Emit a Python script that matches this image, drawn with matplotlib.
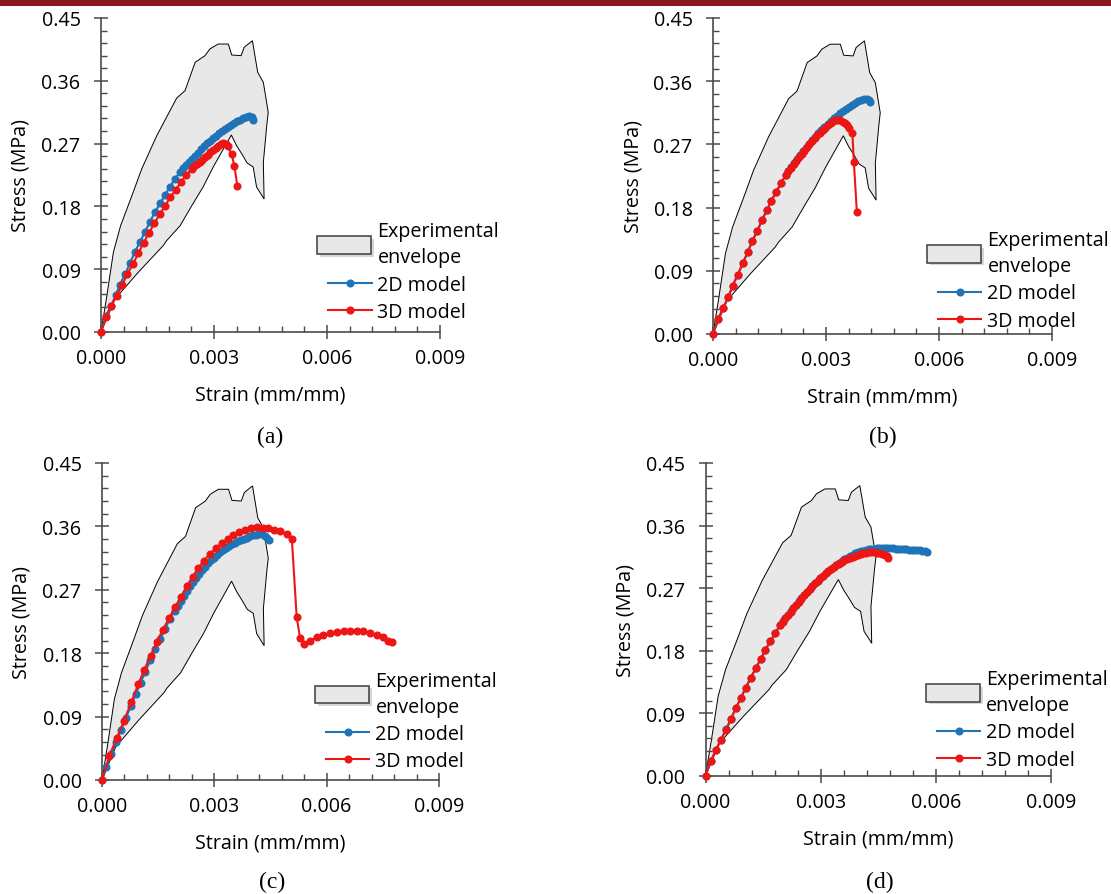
import numpy as np
import matplotlib
matplotlib.use("Agg")
import matplotlib.pyplot as plt
from matplotlib.patches import Rectangle, Patch
from matplotlib.lines import Line2D
from matplotlib.legend_handler import HandlerPatch
from matplotlib.ticker import MultipleLocator, FormatStrFormatter
import matplotlib.patheffects as pe

plt.rcParams["font.family"] = ["Open Sans", "DejaVu Sans"]

# ---------------- experimental envelope (shared by all panels) ----------------
env_strain = [0, 0.00015, 0.00033, 0.00052, 0.00082, 0.00108, 0.00148, 0.00201,
              0.00223, 0.00250, 0.00276, 0.00289, 0.00311, 0.00338, 0.00347,
              0.00372, 0.00380, 0.00402, 0.00416, 0.00431, 0.00444, 0.00440,
              0.00431, 0.00433, 0.00413, 0.00404, 0.00388, 0.00374, 0.00360,
              0.00346, 0.00325, 0.00298, 0.00271, 0.00241, 0.00210, 0.00174,
              0.00165, 0.00099, 0.00037, 0]
env_stress = [0, 0.0500, 0.1146, 0.1523, 0.1953, 0.2336, 0.2813, 0.3353,
              0.3458, 0.3865, 0.3960, 0.4056, 0.4127, 0.4127, 0.3970,
              0.3960, 0.4080, 0.4175, 0.3722, 0.3578, 0.3149, 0.2957,
              0.2432, 0.1906, 0.2078, 0.2365, 0.2422, 0.2551, 0.2670,
              0.2823, 0.2623, 0.2365, 0.2078, 0.1810, 0.1523, 0.1308,
              0.1237, 0.0856, 0.0473, 0]

# ---------------- (a) ----------------
a_2d_strain = [0, 0.00013, 0.00027, 0.00039, 0.00050, 0.00064, 0.00077, 0.00090,
               0.00104, 0.00117, 0.00130, 0.00143, 0.00157, 0.00170, 0.00183,
               0.00196, 0.00210, 0.00218, 0.00226, 0.00234, 0.00242, 0.00250,
               0.00258, 0.00266, 0.00274, 0.00282, 0.00290, 0.00298, 0.00306,
               0.00314, 0.00322, 0.00330, 0.00338, 0.00346, 0.00354, 0.00362,
               0.00370, 0.00378, 0.00386, 0.00394, 0.00400, 0.00404]
a_2d_stress = [0, 0.0234, 0.0377, 0.0530, 0.0678, 0.0831, 0.0984, 0.1151,
               0.1294, 0.1437, 0.1581, 0.1715, 0.1844, 0.1963, 0.2082,
               0.2193, 0.2297, 0.2345, 0.2392, 0.2438, 0.2483, 0.2527,
               0.2572, 0.2616, 0.2659, 0.2702, 0.2744, 0.2782, 0.2815,
               0.2846, 0.2876, 0.2905, 0.2933, 0.2962, 0.2990, 0.3018,
               0.3045, 0.3068, 0.3085, 0.3090, 0.3075, 0.3045]
a_3d_strain = [0, 0.00014, 0.00027, 0.00042, 0.00056, 0.00070, 0.00085, 0.00099,
               0.00113, 0.00127, 0.00142, 0.00156, 0.00170, 0.00184, 0.00198,
               0.00212, 0.00226, 0.00241, 0.00248, 0.00255, 0.00262, 0.00269,
               0.00276, 0.00283, 0.00290, 0.00297, 0.00304, 0.00311, 0.00318,
               0.00325, 0.00331, 0.00336, 0.00347, 0.00354, 0.00362]
a_3d_stress = [0, 0.0211, 0.0368, 0.0520, 0.0674, 0.0831, 0.0975, 0.1128,
               0.1275, 0.1419, 0.1558, 0.1691, 0.1810, 0.1930, 0.2039,
               0.2145, 0.2250, 0.2336, 0.2372, 0.2406, 0.2440, 0.2472,
               0.2504, 0.2540, 0.2578, 0.2612, 0.2642, 0.2668, 0.2688,
               0.2702, 0.2700, 0.2665, 0.2545, 0.2383, 0.2095]

# ---------------- (b) ----------------
b_2d_strain = [0, 0.00014, 0.00027, 0.00041, 0.00052, 0.00066, 0.00079, 0.00092,
               0.00104, 0.00118, 0.00130, 0.00143, 0.00155, 0.00167, 0.00181,
               0.00193, 0.00200, 0.00208, 0.00216, 0.00224, 0.00232, 0.00240,
               0.00248, 0.00256, 0.00264, 0.00272, 0.00280, 0.00288, 0.00296,
               0.00304, 0.00312, 0.00320, 0.00328, 0.00336, 0.00344, 0.00352,
               0.00360, 0.00368, 0.00376, 0.00384, 0.00392, 0.00400, 0.00408,
               0.00414, 0.00418]
b_2d_stress = [0, 0.0214, 0.0370, 0.0531, 0.0688, 0.0845, 0.1007, 0.1163,
               0.1320, 0.1471, 0.1623, 0.1761, 0.1898, 0.2018, 0.2150,
               0.2264, 0.2318, 0.2378, 0.2435, 0.2490, 0.2545, 0.2600,
               0.2655, 0.2708, 0.2760, 0.2810, 0.2858, 0.2905, 0.2950,
               0.2995, 0.3035, 0.3075, 0.3110, 0.3145, 0.3178, 0.3208,
               0.3238, 0.3265, 0.3290, 0.3315, 0.3335, 0.3348, 0.3350,
               0.3335, 0.3310]
b_3d_strain = [0, 0.00014, 0.00027, 0.00041, 0.00052, 0.00066, 0.00079, 0.00092,
               0.00104, 0.00118, 0.00130, 0.00143, 0.00155, 0.00167, 0.00181,
               0.00193, 0.00200, 0.00207, 0.00214, 0.00221, 0.00228, 0.00235,
               0.00242, 0.00249, 0.00256, 0.00263, 0.00270, 0.00277, 0.00284,
               0.00291, 0.00298, 0.00305, 0.00312, 0.00319, 0.00326, 0.00332,
               0.00338, 0.00344, 0.00350, 0.00356, 0.00362, 0.00370, 0.00374,
               0.00382]
b_3d_stress = [0, 0.0214, 0.0370, 0.0531, 0.0688, 0.0845, 0.1007, 0.1163,
               0.1320, 0.1471, 0.1623, 0.1761, 0.1898, 0.2018, 0.2150,
               0.2264, 0.2316, 0.2366, 0.2416, 0.2466, 0.2516, 0.2565,
               0.2612, 0.2658, 0.2702, 0.2745, 0.2788, 0.2828, 0.2865,
               0.2902, 0.2940, 0.2975, 0.3005, 0.3030, 0.3048, 0.3052,
               0.3045, 0.3025, 0.2998, 0.2970, 0.2935, 0.2858, 0.2445,
               0.1733]

# ---------------- (c) ----------------
c_2d_strain = [0, 0.00012, 0.00025, 0.00038, 0.00051, 0.00064, 0.00077, 0.00090,
               0.00103, 0.00116, 0.00129, 0.00142, 0.00155, 0.00168, 0.00181,
               0.00194, 0.00202, 0.00210, 0.00218, 0.00226, 0.00234, 0.00242,
               0.00250, 0.00258, 0.00266, 0.00274, 0.00282, 0.00290, 0.00298,
               0.00306, 0.00314, 0.00322, 0.00330, 0.00338, 0.00346, 0.00354,
               0.00362, 0.00370, 0.00378, 0.00386, 0.00394, 0.00402, 0.00410,
               0.00418, 0.00426, 0.00434, 0.00441, 0.00447]
c_2d_stress = [0, 0.0180, 0.0370, 0.0540, 0.0710, 0.0880, 0.1050, 0.1220,
               0.1380, 0.1540, 0.1700, 0.1860, 0.2000, 0.2140, 0.2280,
               0.2400, 0.2470, 0.2540, 0.2610, 0.2680, 0.2748, 0.2812,
               0.2870, 0.2925, 0.2978, 0.3028, 0.3075, 0.3118, 0.3158,
               0.3195, 0.3230, 0.3262, 0.3292, 0.3320, 0.3345, 0.3368,
               0.3388, 0.3407, 0.3425, 0.3442, 0.3458, 0.3472, 0.3484,
               0.3490, 0.3488, 0.3465, 0.3430, 0.3410]
c_3d_strain = [0, 0.000195, 0.000393, 0.000588, 0.000783, 0.00097, 0.00113, 0.00130,
               0.00146, 0.00162, 0.00179, 0.00195, 0.00211, 0.00226, 0.00242,
               0.00257, 0.00272, 0.00288, 0.00304, 0.00320, 0.00336, 0.00351,
               0.00367, 0.00382, 0.00398, 0.00413, 0.00429, 0.00444, 0.00460,
               0.00475, 0.00493, 0.00507, 0.00520, 0.00529, 0.00540, 0.00556,
               0.00573, 0.00591, 0.00609, 0.00627, 0.00645, 0.00662, 0.00680,
               0.00698, 0.00716, 0.00734, 0.00751, 0.00765, 0.00774]
c_3d_stress = [0, 0.0345, 0.0592, 0.0842, 0.1103, 0.1363, 0.1566, 0.1765,
               0.1955, 0.2129, 0.2295, 0.2452, 0.2602, 0.2750, 0.2886,
               0.3009, 0.3113, 0.3208, 0.3289, 0.3364, 0.3421, 0.3478,
               0.3516, 0.3549, 0.3573, 0.3587, 0.3577, 0.3573, 0.3553,
               0.3539, 0.3492, 0.3421, 0.2310, 0.2016, 0.1931, 0.1978,
               0.2026, 0.2058, 0.2083, 0.2097, 0.2111, 0.2119, 0.2119,
               0.2111, 0.2087, 0.2058, 0.2026, 0.1978, 0.1964]

# ---------------- (d) ----------------
d_3d_strain = [0, 0.000143, 0.000274, 0.000397, 0.000535, 0.000665, 0.000788, 0.000918,
               0.00105, 0.00118, 0.00131, 0.00144, 0.00156, 0.00169, 0.00182,
               0.00194, 0.00201, 0.00208, 0.00215, 0.00222, 0.00229, 0.00236,
               0.00243, 0.00250, 0.00257, 0.00264, 0.00271, 0.00278, 0.00285,
               0.00292, 0.00299, 0.00306, 0.00313, 0.00320, 0.00327, 0.00334,
               0.00341, 0.00348, 0.00355, 0.00362, 0.00369, 0.00376, 0.00383,
               0.00390, 0.00397, 0.00404, 0.00411, 0.00418, 0.00425, 0.00432,
               0.00439, 0.00446, 0.00453, 0.00460, 0.00467, 0.00472, 0.00475]
d_3d_stress = [0, 0.0216, 0.0370, 0.0514, 0.0662, 0.0816, 0.0970, 0.1114,
               0.1266, 0.1410, 0.1545, 0.1679, 0.1809, 0.1934, 0.2049,
               0.2169, 0.2218, 0.2267, 0.2315, 0.2362, 0.2410, 0.2458,
               0.2504, 0.2550, 0.2596, 0.2641, 0.2685, 0.2728, 0.2768,
               0.2806, 0.2842, 0.2876, 0.2910, 0.2942, 0.2972, 0.3000,
               0.3027, 0.3052, 0.3076, 0.3098, 0.3118, 0.3136, 0.3153,
               0.3168, 0.3181, 0.3193, 0.3203, 0.3211, 0.3216, 0.3219,
               0.3218, 0.3212, 0.3203, 0.3190, 0.3172, 0.3155, 0.3135]
d_2d_strain = [0, 0.000143, 0.000274, 0.000397, 0.000535, 0.000665, 0.000788, 0.000918,
               0.00105, 0.00118, 0.00131, 0.00144, 0.00156, 0.00169, 0.00182,
               0.00194, 0.00201, 0.00208, 0.00215, 0.00222, 0.00229, 0.00236,
               0.00243, 0.00250, 0.00257, 0.00264, 0.00271, 0.00278, 0.00285,
               0.00292, 0.00299, 0.00306, 0.00313, 0.00320, 0.00327, 0.00334,
               0.00341, 0.00348, 0.00355, 0.00362, 0.00369, 0.00376, 0.00383,
               0.00390, 0.00397, 0.00404, 0.00411, 0.00418, 0.00425, 0.00432,
               0.00439, 0.00446, 0.00453, 0.00460, 0.00467, 0.00474, 0.00481,
               0.00488, 0.00495, 0.00502, 0.00509, 0.00516, 0.00523, 0.00530,
               0.00537, 0.00544, 0.00551, 0.00558, 0.00565, 0.00572, 0.00577]
d_2d_stress = [0, 0.0218, 0.0372, 0.0517, 0.0665, 0.0819, 0.0973, 0.1117,
               0.1269, 0.1413, 0.1548, 0.1682, 0.1812, 0.1937, 0.2052,
               0.2172, 0.2221, 0.2270, 0.2318, 0.2365, 0.2413, 0.2461,
               0.2507, 0.2553, 0.2599, 0.2644, 0.2688, 0.2731, 0.2771,
               0.2809, 0.2845, 0.2880, 0.2914, 0.2947, 0.2978, 0.3007,
               0.3035, 0.3063, 0.3090, 0.3115, 0.3138, 0.3160, 0.3180,
               0.3198, 0.3214, 0.3228, 0.3240, 0.3250, 0.3258, 0.3264,
               0.3268, 0.3271, 0.3273, 0.3274, 0.3274, 0.3274, 0.3273,
               0.3271, 0.3269, 0.3267, 0.3264, 0.3261, 0.3258, 0.3255,
               0.3252, 0.3249, 0.3246, 0.3242, 0.3237, 0.3232, 0.3225]

x_ticks = [0, 0.003, 0.006, 0.009]
y_ticks = [0, 0.09, 0.18, 0.27, 0.36, 0.45]
panel_tags = ["(a)", "(b)", "(c)", "(d)"]

BLUE = "#1f73b7"
RED = "#ee1515"
ENV_FACE = "#e8e8e8"
AX_COLOR = "#4a4a4a"
FS = 14.2
MS = 4.8

W, H = 1111, 895
fig = plt.figure(figsize=(W / 100, H / 100), dpi=100)

# axes frames in pixels: left, top, right, bottom
frames = [(101, 19, 440, 333), (713, 19, 1052, 335),
          (102, 464, 439, 781), (705.5, 464, 1051, 776.7)]
legend_anchor = [(0.670, 0.353), (0.664, 0.329), (0.665, 0.345), (0.670, 0.341)]
tag_pos = [(270, 437), (883, 437), (272, 882), (880, 882)]

series = [
    (a_2d_strain, a_2d_stress, a_3d_strain, a_3d_stress),
    (b_2d_strain, b_2d_stress, b_3d_strain, b_3d_stress),
    (c_2d_strain, c_2d_stress, c_3d_strain, c_3d_stress),
    (d_2d_strain, d_2d_stress, d_3d_strain, d_3d_stress),
]


def env_handle(legend, orig_handle, xdescent, ydescent, width, height, fontsize):
    return Rectangle((-xdescent - 7.9, -ydescent - 1.4), width + 7.5, height + 2.8)


for (l, t, r, b), (x2, y2, x3, y3), anchor, tag, tp in zip(
        frames, series, legend_anchor, panel_tags, tag_pos):
    ax = fig.add_axes([l / W, 1 - b / H, (r - l) / W, (b - t) / H])
    ax.fill(env_strain, env_stress, facecolor=ENV_FACE, edgecolor="black",
            linewidth=0.7, zorder=1)
    ax.plot(x2, y2, color=BLUE, lw=1.5, marker="o", ms=MS, zorder=3, clip_on=False)
    ax.plot(x3, y3, color=RED, lw=1.5, marker="o", ms=MS, zorder=4, clip_on=False)

    ax.set_xlim(0, 0.009)
    ax.set_ylim(0, 0.45)
    ax.set_xticks(x_ticks)
    ax.set_yticks(y_ticks)
    ax.xaxis.set_major_formatter(FormatStrFormatter("%.3f"))
    ax.yaxis.set_major_formatter(FormatStrFormatter("%.2f"))
    ax.xaxis.set_minor_locator(MultipleLocator(0.0006))
    ax.yaxis.set_minor_locator(MultipleLocator(0.018))
    for side in ("top", "right"):
        ax.spines[side].set_visible(False)
    for side in ("left", "bottom"):
        ax.spines[side].set_color(AX_COLOR)
        ax.spines[side].set_linewidth(1.2)
    ax.tick_params(which="major", direction="inout", length=9.4, width=1.1,
                   color=AX_COLOR, labelsize=FS, labelcolor="black")
    ax.tick_params(which="minor", direction="in", length=4.3, width=1.0, color=AX_COLOR)
    ax.tick_params(axis="x", which="major", pad=7.0)
    ax.tick_params(axis="y", which="major", pad=10.0)

    ax.set_xlabel("Strain (mm/mm)", fontsize=FS)
    ax.set_ylabel("Stress (MPa)", fontsize=FS)
    ax.xaxis.label.set_va("center")
    ax.yaxis.label.set_va("center")
    ax.xaxis.set_label_coords(0.5, -63 / (b - t))
    ax.yaxis.set_label_coords(-80 / (r - l), 0.5)

    env_proxy = Patch(facecolor=ENV_FACE, edgecolor="#3c3c3c", linewidth=1.1,
                      path_effects=[pe.SimplePatchShadow(offset=(2, -2),
                                                         shadow_rgbFace="#bdbdbd",
                                                         alpha=0.6),
                                    pe.Normal()])
    h2 = Line2D([], [], color=BLUE, lw=1.5, marker="o", ms=MS)
    h3 = Line2D([], [], color=RED, lw=1.5, marker="o", ms=MS)
    leg = ax.legend([env_proxy, h2, h3], ["Experimental\nenvelope", "2D model", "3D model"],
                    loc="upper left", bbox_to_anchor=anchor, frameon=False,
                    fontsize=FS, handlelength=2.2, handletextpad=0.3,
                    labelspacing=0.36, borderpad=0, borderaxespad=0, numpoints=1,
                    handler_map={Patch: HandlerPatch(patch_func=env_handle)})
    for txt in leg.get_texts():
        txt.set_linespacing(1.42)

    fig.text(tp[0] / W, 1 - tp[1] / H, tag, ha="center", va="center",
             fontsize=17, family=["Liberation Serif", "DejaVu Serif"])

# header band
fig.add_artist(Rectangle((0, 1 - 7 / H), 1, 7 / H, transform=fig.transFigure,
                         facecolor="#8c1622", edgecolor="none"))

fig.savefig("out.png", dpi=100)
